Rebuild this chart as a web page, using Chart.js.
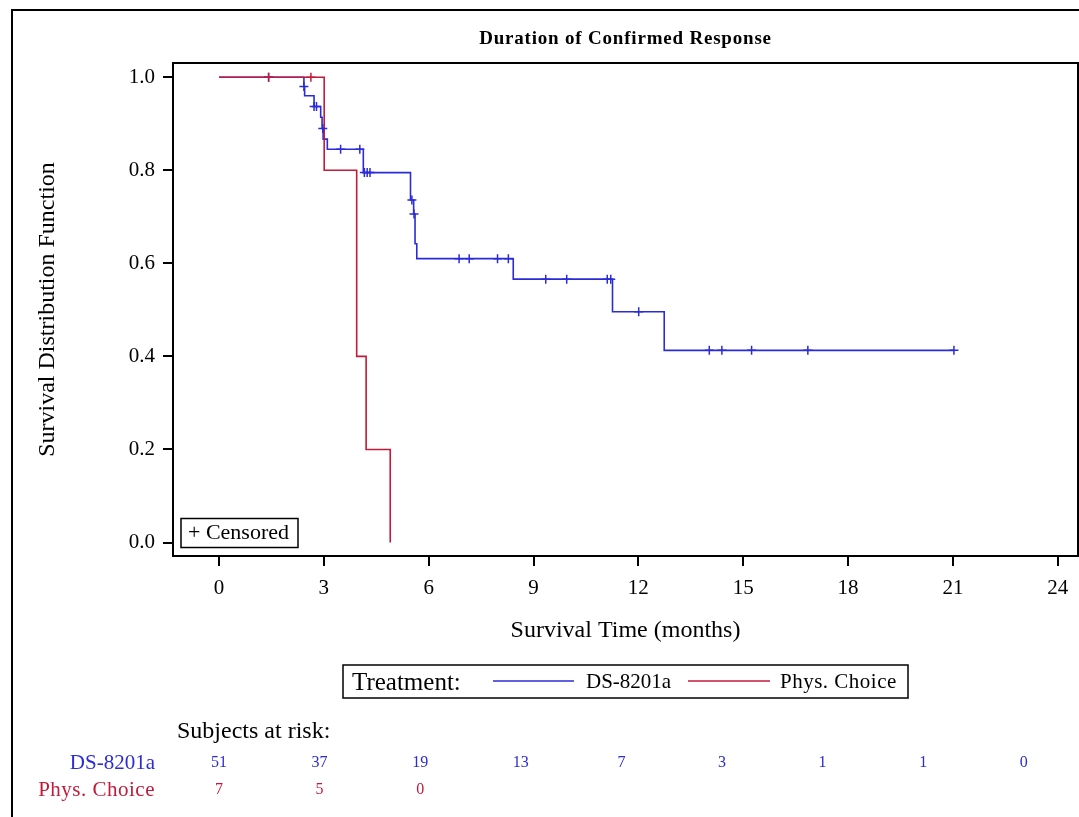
<!DOCTYPE html>
<html>
<head>
<meta charset="utf-8">
<script src="https://cdn.jsdelivr.net/npm/chart.js@4.4.1/dist/chart.umd.min.js"></script>
<style>
  html, body { margin: 0; padding: 0; background: #fff; }
  #wrap { width: 1079px; height: 817px; }
</style>
</head>
<body>
<div id="wrap"><canvas id="km" width="1079" height="817"></canvas></div>
<script>
// DS-8201a: Kaplan-Meier steps (months, survival)
const dsTime = [0, 2.43, 2.45, 2.72, 2.91, 2.95, 2.98, 3.10, 4.13, 5.48, 5.57, 5.61, 5.66, 8.42, 11.26, 12.74, 21.03];
const dsSurv = [1, 0.980, 0.960, 0.937, 0.914, 0.890, 0.867, 0.845, 0.795, 0.736, 0.706, 0.642, 0.610, 0.566, 0.496, 0.413, 0.413];
// DS-8201a: censored observations
const dsCensTime = [1.42, 2.43, 2.72, 2.79, 2.97, 3.48, 4.03, 4.16, 4.24, 4.32, 5.52, 5.58, 6.87, 7.16, 7.97, 8.28, 9.35, 9.95, 11.11, 11.21, 12.01, 14.03, 14.39, 15.24, 16.85, 21.03];
const dsCensSurv = [1, 0.980, 0.937, 0.937, 0.890, 0.845, 0.845, 0.795, 0.795, 0.795, 0.736, 0.706, 0.610, 0.610, 0.610, 0.610, 0.566, 0.566, 0.566, 0.566, 0.496, 0.413, 0.413, 0.413, 0.413, 0.413];

// Physician's choice: steps and censored observations
const pcTime = [0, 3.01, 3.94, 4.21, 4.90];
const pcSurv = [1, 0.8, 0.4, 0.2, 0];
const pcCensTime = [1.42, 2.63];
const pcCensSurv = [1, 1];

const xTicks = [0, 3, 6, 9, 12, 15, 18, 21, 24];
const yTicks = [0, 0.2, 0.4, 0.6, 0.8, 1.0];

// subjects at risk at each 3-month mark
const groups = ['DS-8201a', 'Phys. Choice'];
const dsAtRisk = [51, 37, 19, 13, 7, 3, 1, 1, 0];
const pcAtRisk = [7, 5, 0];

const BLUE = '#2b2bd8';
const RED = '#c41a3a';
const SERIF = '"Liberation Serif", "Times New Roman", serif';

function pts(xs, ys) {
  return xs.map((x, i) => ({ x: x, y: ys[i] }));
}

const extras = {
  id: 'extras',
  afterDraw(chart) {
    const c = chart.ctx;
    const a = chart.chartArea;
    const xs = chart.scales.x;
    c.save();

    // outer frame (top + left)
    c.strokeStyle = '#000';
    c.lineWidth = 2;
    c.beginPath();
    c.moveTo(1079, 10);
    c.lineTo(12, 10);
    c.lineTo(12, 817);
    c.stroke();

    // plot frame
    c.strokeRect(a.left, a.top, a.right - a.left, a.bottom - a.top);

    c.fillStyle = '#000';
    c.textBaseline = 'middle';
    c.textAlign = 'center';

    c.font = 'bold 19px ' + SERIF;
    c.letterSpacing = '0.8px';
    c.fillText('Duration of Confirmed Response', (a.left + a.right) / 2, 39);
    c.letterSpacing = '0px';

    c.font = '24px ' + SERIF;
    c.fillText('Survival Time (months)', (a.left + a.right) / 2, 631);

    c.save();
    c.translate(48, (a.top + a.bottom) / 2);
    c.rotate(-Math.PI / 2);
    c.fillText('Survival Distribution Function', 0, 0);
    c.restore();

    // censored key
    c.lineWidth = 1.5;
    c.strokeRect(181, 518.5, 117, 29);
    c.textAlign = 'left';
    c.font = '22px ' + SERIF;
    c.fillText('+ Censored', 188, 533);

    // treatment legend
    c.strokeRect(343, 665, 565, 33);
    c.font = '25px ' + SERIF;
    c.fillText('Treatment:', 352, 683);
    c.font = '21px ' + SERIF;
    c.lineWidth = 1.5;
    c.strokeStyle = BLUE;
    c.beginPath(); c.moveTo(493, 681); c.lineTo(574, 681); c.stroke();
    c.fillText(groups[0], 586, 682);
    c.strokeStyle = RED;
    c.beginPath(); c.moveTo(688, 681); c.lineTo(770, 681); c.stroke();
    c.letterSpacing = '0.5px';
    c.fillText(groups[1], 780, 682);
    c.letterSpacing = '0px';

    // at-risk table
    c.font = '24px ' + SERIF;
    c.fillText('Subjects at risk:', 177, 732);
    c.textAlign = 'right';
    c.font = '21px ' + SERIF;
    c.fillStyle = BLUE;
    c.fillText(groups[0], 155, 763);
    c.fillStyle = RED;
    c.letterSpacing = '0.5px';
    c.fillText(groups[1], 155, 790);
    c.letterSpacing = '0px';

    const x0 = xs.getPixelForValue(0);
    const step = 100.6;
    c.textAlign = 'center';
    c.font = '16px ' + SERIF;
    c.fillStyle = BLUE;
    dsAtRisk.forEach((n, i) => c.fillText(String(n), x0 + i * step, 763));
    c.fillStyle = RED;
    pcAtRisk.forEach((n, i) => c.fillText(String(n), x0 + i * step, 790));

    c.restore();
  }
};

new Chart(document.getElementById('km').getContext('2d'), {
  type: 'scatter',
  data: {
    datasets: [
      { data: pts(pcCensTime, pcCensSurv), pointStyle: 'cross', pointRadius: 4.5, borderColor: RED, borderWidth: 1.5, showLine: false },
      { data: pts(dsCensTime, dsCensSurv), pointStyle: 'cross', pointRadius: 4.5, borderColor: BLUE, borderWidth: 1.5, showLine: false },
      { label: 'Phys. Choice', data: pts(pcTime, pcSurv), showLine: true, stepped: 'before', borderColor: RED, borderWidth: 1.6, pointRadius: 0 },
      { label: 'DS-8201a', data: pts(dsTime, dsSurv), showLine: true, stepped: 'before', borderColor: BLUE, borderWidth: 1.6, pointRadius: 0 }
    ]
  },
  options: {
    responsive: false,
    animation: false,
    events: [],
    layout: { autoPadding: false, padding: { top: 63, right: 1, left: 0, bottom: 0 } },
    plugins: {
      legend: { display: false },
      tooltip: { enabled: false }
    },
    scales: {
      x: {
        type: 'linear',
        min: -1.316,
        max: 24.58,
        afterBuildTicks: s => { s.ticks = xTicks.map(v => ({ value: v })); },
        afterFit: s => { s.height = 261; s.paddingLeft = 0; s.paddingRight = 0; },
        grid: { drawOnChartArea: false, tickLength: 10, color: '#000', lineWidth: 2 },
        border: { color: '#000', width: 2 },
        ticks: { color: '#000', font: { family: SERIF, size: 21 }, padding: 10, maxRotation: 0, callback: v => String(v) }
      },
      y: {
        type: 'linear',
        min: -0.029,
        max: 1.0305,
        afterBuildTicks: s => { s.ticks = yTicks.map(v => ({ value: v })); },
        afterFit: s => { s.width = 173; s.paddingTop = 0; s.paddingBottom = 0; },
        grid: { drawOnChartArea: false, tickLength: 10, color: '#000', lineWidth: 2 },
        border: { color: '#000', width: 2 },
        ticks: { color: '#000', font: { family: SERIF, size: 21 }, padding: 8, callback: v => v.toFixed(1) }
      }
    }
  },
  plugins: [extras]
});
</script>
</body>
</html>
